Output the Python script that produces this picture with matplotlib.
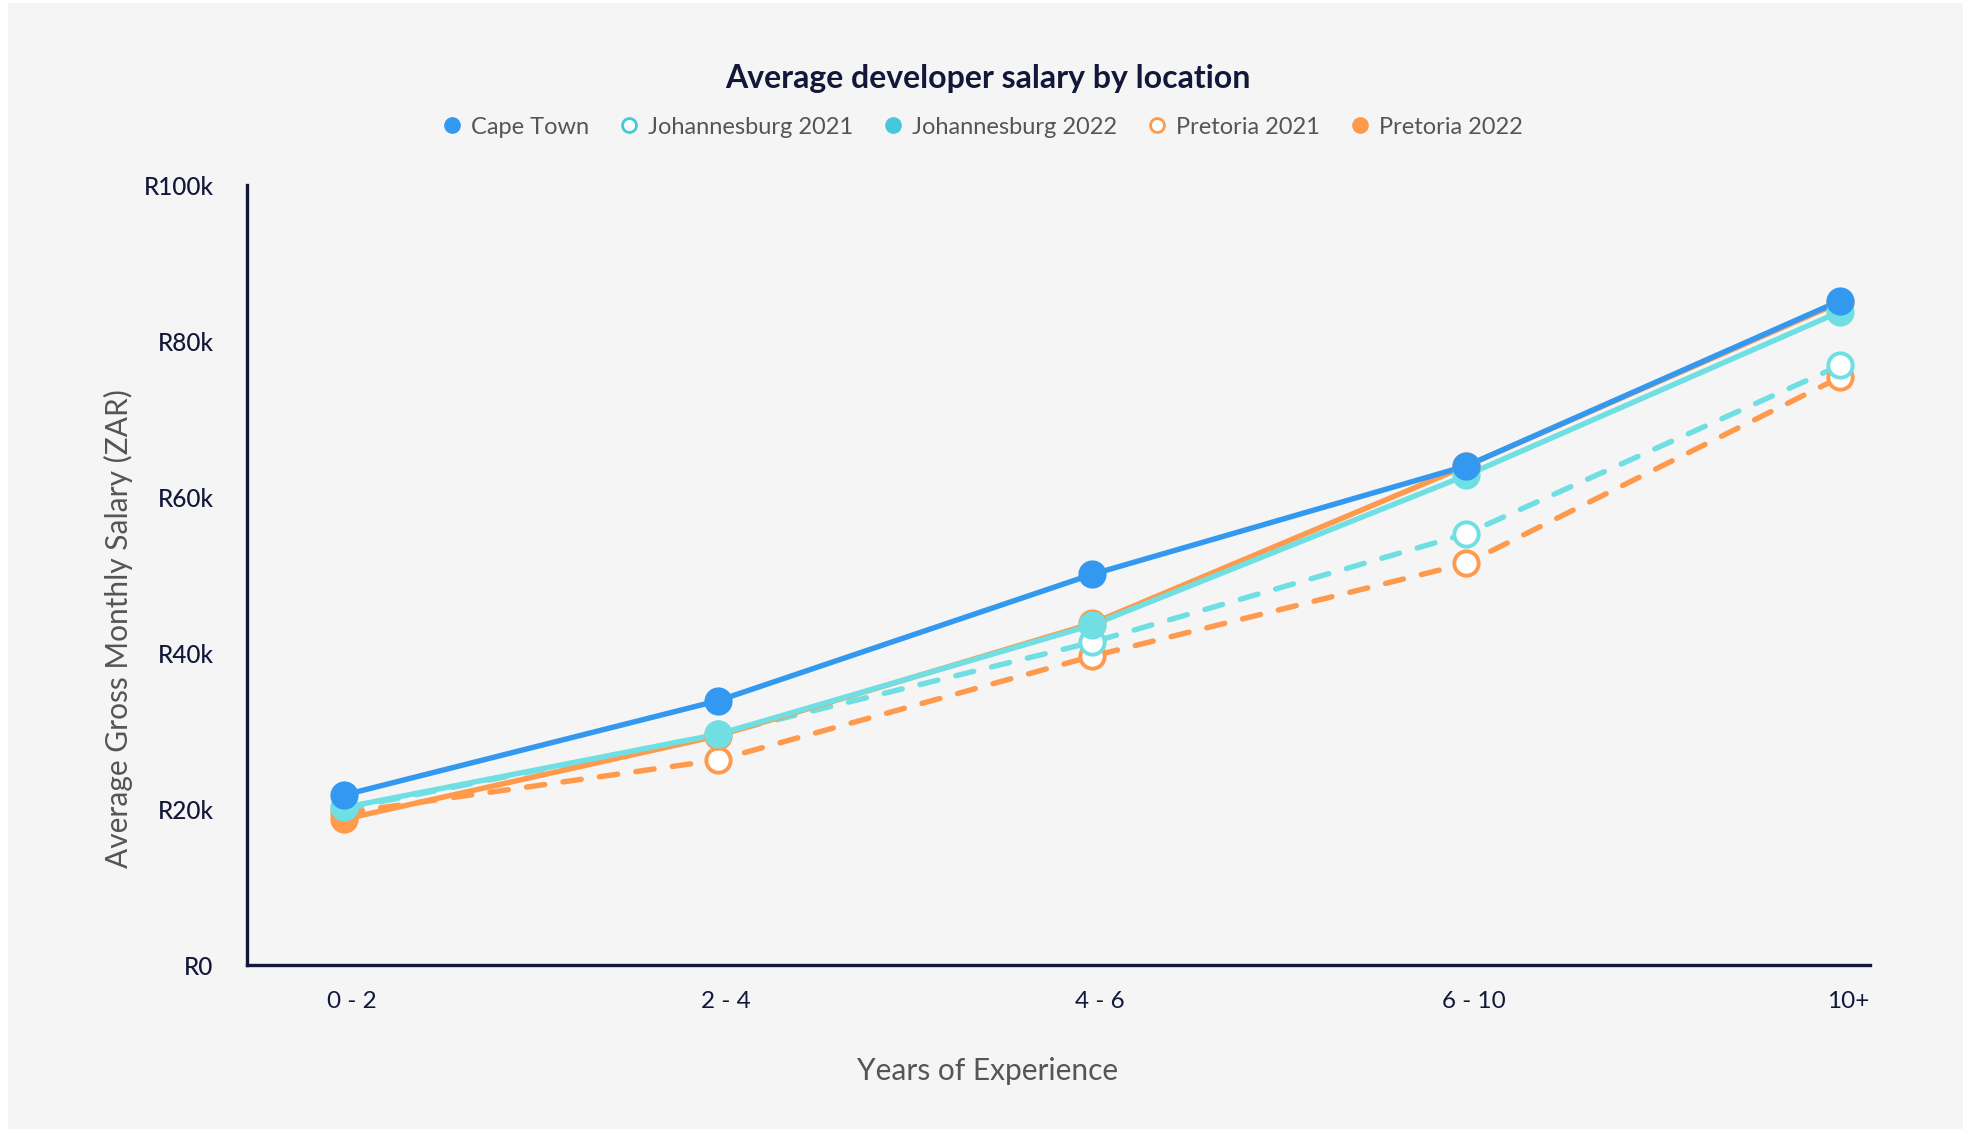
import matplotlib.pyplot as plt
import matplotlib.patches as mpatches
from matplotlib.lines import Line2D
import numpy as np

plt.rcParams['font.family'] = ['Lato', 'DejaVu Sans']

# data (values in thousands of rand)
experience = ['0 - 2', '2 - 4', '4 - 6', '6 - 10', '10+']
cape_town = [21.8, 33.9, 50.1, 64.0, 85.2]
joburg_2021 = [20.0, 29.6, 41.4, 55.3, 76.9]
joburg_2022 = [20.2, 29.6, 43.6, 62.8, 83.8]
pretoria_2021 = [19.5, 26.3, 39.6, 51.5, 75.4]
pretoria_2022 = [18.7, 29.4, 43.8, 64.0, 85.0]
y_ticks = [0, 20, 40, 60, 80, 100]
y_tick_labels = ['R0', 'R20k', 'R40k', 'R60k', 'R80k', 'R100k']

navy = '#13183a'
blue = '#3399f0'
teal = '#6fdfe3'
teal_legend = '#45c8dc'
orange = '#ff9a4d'

fig = plt.figure(figsize=(19.75, 11.36), dpi=100, facecolor='white')
# light grey card behind everything
fig.patches.append(mpatches.Rectangle((0.004, 0.006), 0.99, 0.991, transform=fig.transFigure,
                                      facecolor='#f5f5f5', edgecolor='none', zorder=-5))

ax = fig.add_axes([0.125, 0.1505, 0.822, 0.6865])
ax.set_facecolor('none')

x = np.arange(len(experience))
ms = 17.5

# (values, colour, dashed?, filled?, zorder)
series = [
    (pretoria_2021, orange, True, False, 2),
    (joburg_2021, teal, True, False, 3),
    (pretoria_2022, orange, False, True, 4),
    (joburg_2022, teal, False, True, 5),
    (cape_town, blue, False, True, 6),
]
for vals, col, dashed, filled, z in series:
    ax.plot(x, vals, color=col, lw=3.9, linestyle=(0, (3.4, 3.4)) if dashed else '-',
            dash_capstyle='round', solid_capstyle='round', zorder=z)
    ax.plot(x, vals, linestyle='none', marker='o', markersize=ms,
            markerfacecolor=col if filled else 'white', markeredgecolor=col,
            markeredgewidth=2.8, zorder=z + 10, clip_on=False)

ax.set_xlim(-0.26, 4.08)
ax.set_ylim(0, 100)
ax.set_yticks(y_ticks)
ax.set_yticklabels(y_tick_labels, fontsize=17.5, color=navy, fontweight='medium')
ax.set_xticks(x + 0.02)
ax.set_xticklabels(experience, fontsize=17.5, color=navy)
ax.tick_params(axis='both', length=0)
ax.tick_params(axis='y', pad=24)
ax.tick_params(axis='x', pad=19)

for s in ['top', 'right']:
    ax.spines[s].set_visible(False)
for s in ['left', 'bottom']:
    ax.spines[s].set_color(navy)
    ax.spines[s].set_linewidth(2.4)

ax.set_xlabel('Years of Experience', fontsize=21.5, color='#555555')
ax.xaxis.set_label_coords(0.456, -0.118)
ax.set_ylabel('Average Gross Monthly Salary (ZAR)', fontsize=21.5, color='#555555')
ax.yaxis.set_label_coords(-0.07, 0.431)

fig.text(0.5, 0.931, 'Average developer salary by location', ha='center', va='center',
         fontsize=23, fontweight='bold', color=navy)

handles = [
    Line2D([], [], linestyle='none', marker='o', markersize=11, color=blue, label='Cape Town'),
    Line2D([], [], linestyle='none', marker='o', markersize=10, markerfacecolor='white',
           markeredgecolor=teal_legend, markeredgewidth=2, label='Johannesburg 2021'),
    Line2D([], [], linestyle='none', marker='o', markersize=11, color=teal_legend, label='Johannesburg 2022'),
    Line2D([], [], linestyle='none', marker='o', markersize=10, markerfacecolor='white',
           markeredgecolor=orange, markeredgewidth=2, label='Pretoria 2021'),
    Line2D([], [], linestyle='none', marker='o', markersize=11, color=orange, label='Pretoria 2022'),
]
leg = fig.legend(handles=handles, loc='center', bbox_to_anchor=(0.497, 0.888), ncol=5,
                 frameon=False, fontsize=17, handletextpad=0.3, columnspacing=1.2,
                 handlelength=1.0)
for t in leg.get_texts():
    t.set_color('#555555')

fig.savefig('out.png', dpi=100, facecolor='white')
